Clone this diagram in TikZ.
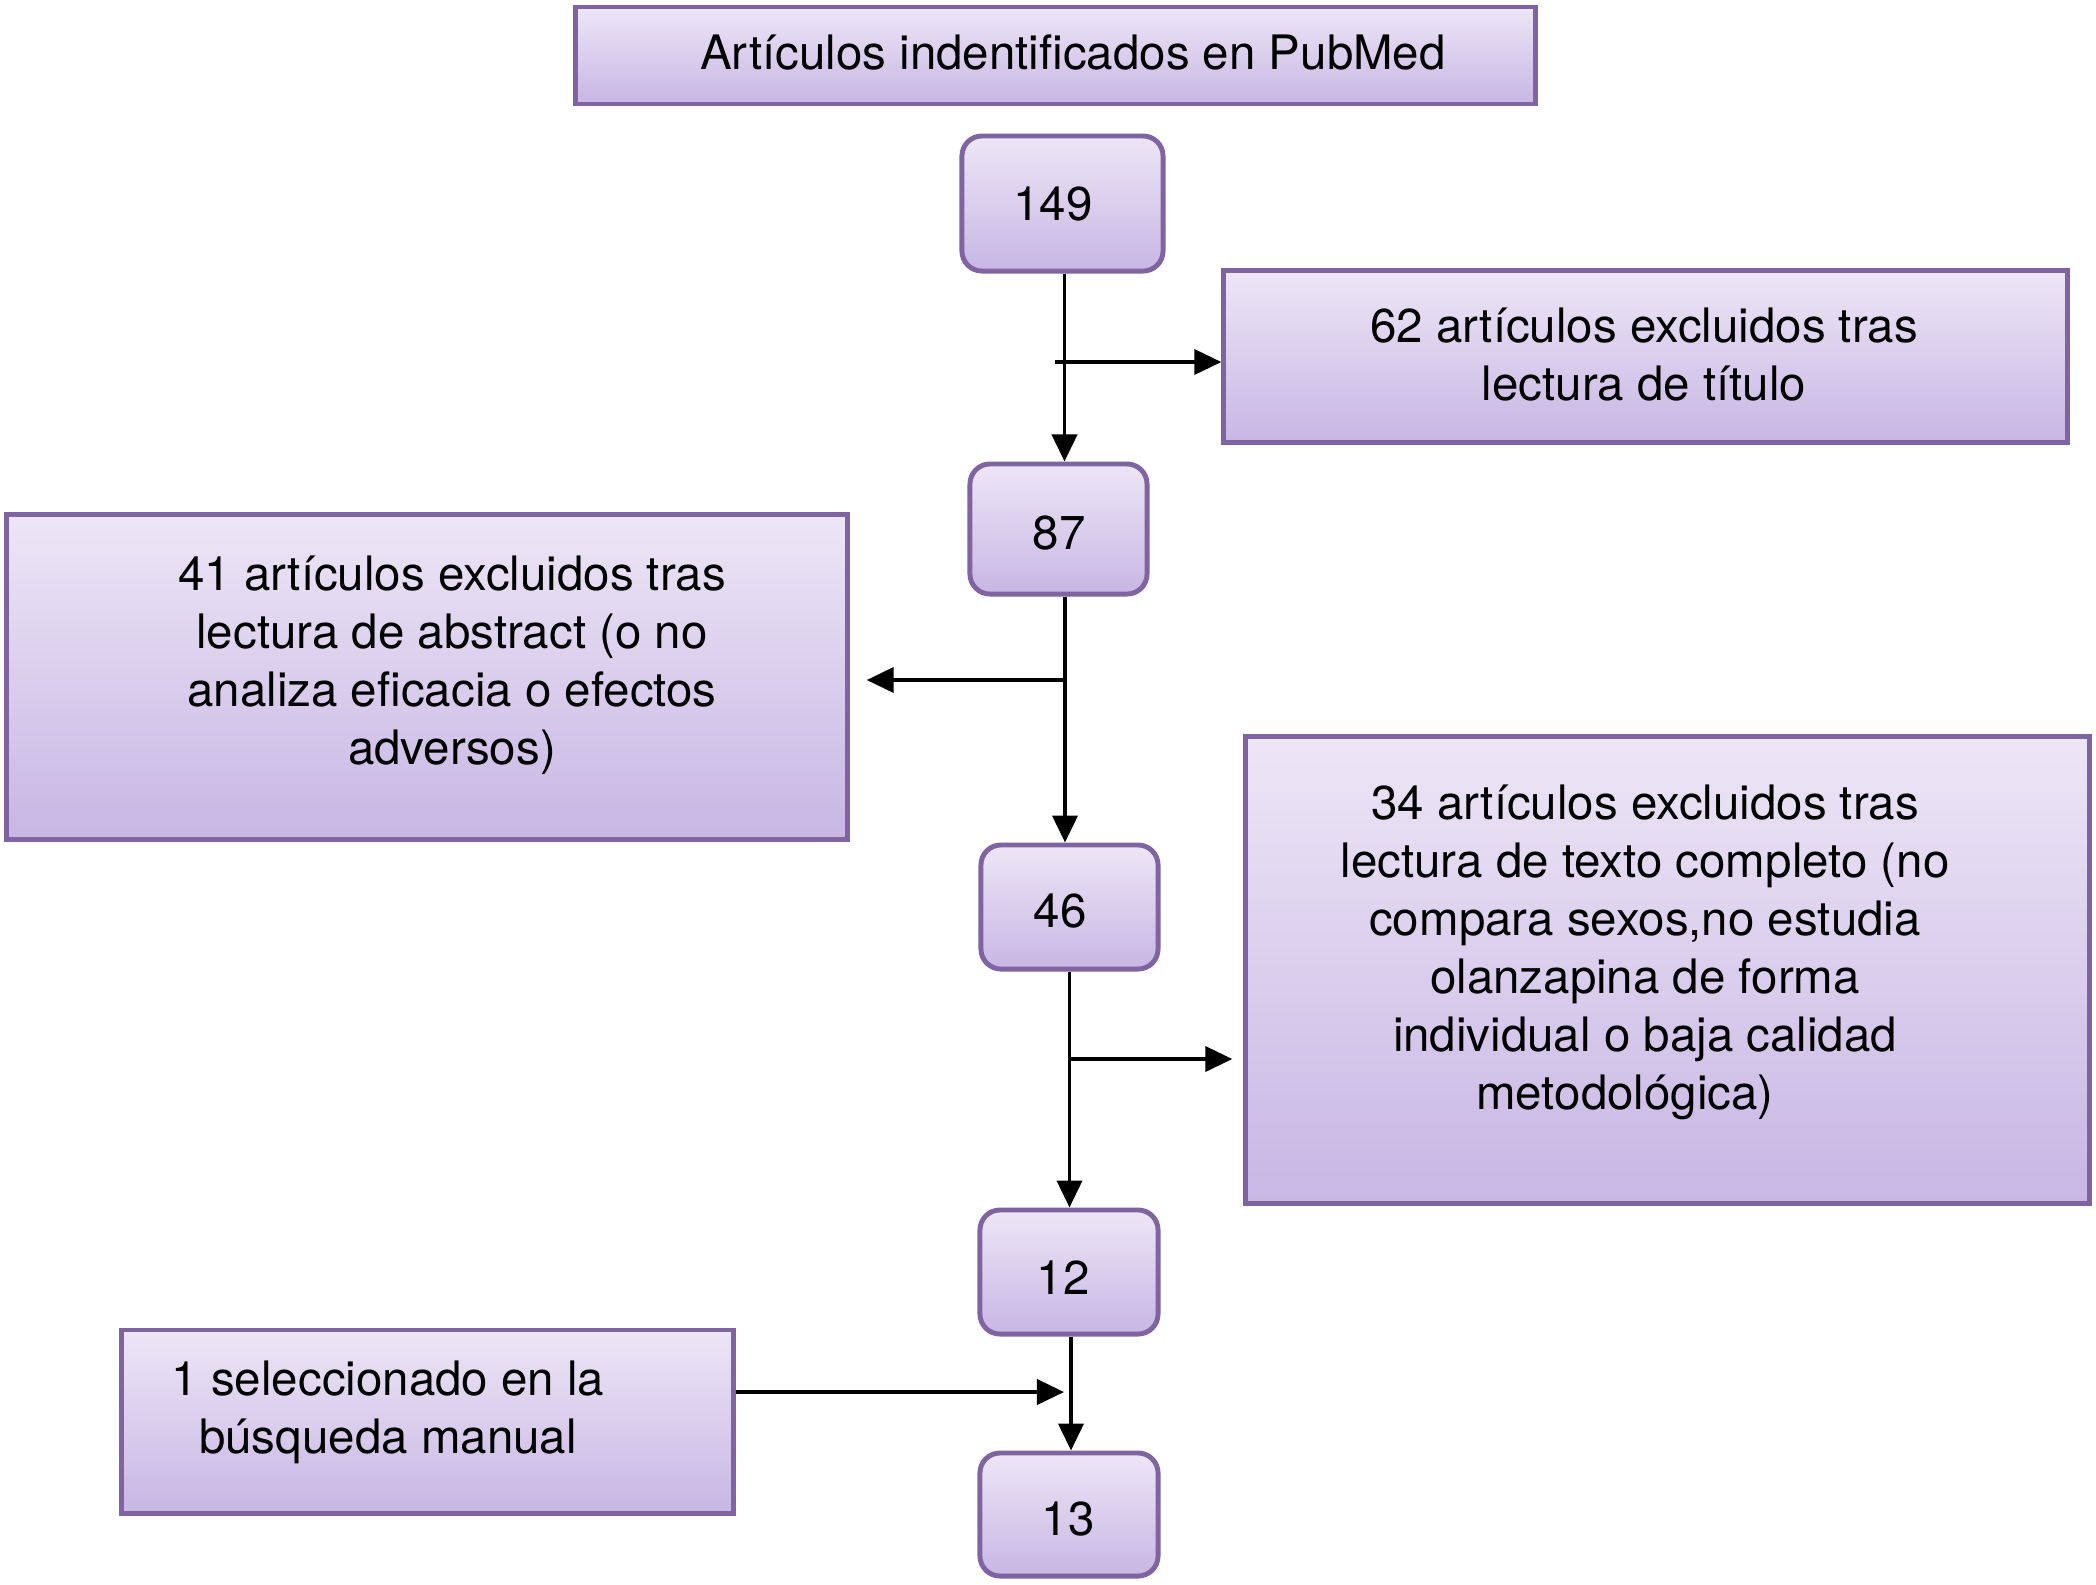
\documentclass[tikz,border=0pt]{standalone}
\usepackage{fontspec}
\setmainfont{TeX Gyre Heros}
\usetikzlibrary{arrows.meta}

\definecolor{boxline}{HTML}{8064A2}
\definecolor{boxtop}{HTML}{EDE6F6}
\definecolor{boxbot}{HTML}{C8B6E4}

\tikzset{
  box/.style={draw=boxline, line width=1.4pt, top color=boxtop, bottom color=boxbot, inner sep=0pt},
  numbox/.style={box, rounded corners=0.2cm},
  txt/.style={align=center, font=\fontsize{13.5}{16.5}\selectfont, inner sep=0pt},
  arr/.style={-{Triangle[length=0.27cm,width=0.25cm]}, line width=1.1pt}
}

\begin{document}
\begin{tikzpicture}[x=0.01cm, y=-0.01cm]
  \useasboundingbox (0,0) rectangle (2096,1584);

  % boxes
  \node[box, minimum width=9.59cm, minimum height=0.97cm] (top) at (1055.5,55.5) {};
  \node[numbox, minimum width=2.01cm, minimum height=1.35cm] (b149) at (1062.5,203.5) {};
  \node[box, minimum width=8.43cm, minimum height=1.71cm] (b62) at (1645.5,356.5) {};
  \node[numbox, minimum width=1.77cm, minimum height=1.30cm] (b87) at (1058.5,529) {};
  \node[box, minimum width=8.40cm, minimum height=3.24cm] (b41) at (427,677) {};
  \node[numbox, minimum width=1.77cm, minimum height=1.24cm] (b46) at (1069.5,907) {};
  \node[box, minimum width=8.43cm, minimum height=4.66cm] (b34) at (1667.5,970) {};
  \node[numbox, minimum width=1.78cm, minimum height=1.24cm] (b12) at (1069,1272) {};
  \node[box, minimum width=6.11cm, minimum height=1.83cm] (b1) at (427.5,1421.5) {};
  \node[numbox, minimum width=1.78cm, minimum height=1.23cm] (b13) at (1069,1514.5) {};

  % texts
  \node[txt] (ttop) at (1073,52) {Artículos indentificados en PubMed};
  \node[txt] (t149) at (1053,204) {149};
  \node[txt] (t62) at (1644,355) {62 artículos excluidos tras\\lectura de título};
  \node[txt] (t87) at (1059,533) {87};
  \node[txt] (t41) at (452,665) {41 artículos excluidos tras\\lectura de abstract (o no\\analiza eficacia o efectos\\adversos)};
  \node[txt] (t46) at (1060,911) {46};
  \node[txt] (t34) at (1645,952) {34 artículos excluidos tras\\lectura de texto completo (no\\compara sexos,no estudia\\olanzapina de forma\\individual o baja calidad\\metodológica)\hspace*{0.4cm}};
  \node[txt] (t12) at (1063,1278) {12};
  \node[txt] (t1) at (388,1412) {1 seleccionado en la\\búsqueda manual};
  \node[txt] (t13) at (1068,1519) {13};

  % junctions
  \coordinate (j1) at (1055,362);
  \coordinate (j2) at (1065,680);
  \coordinate (j3) at (1069,1059);
  \coordinate (j4) at (1064,1392);

  % connectors
  \draw[arr] ([xshift=0.02cm]b149.south) -- ([xshift=0.02cm]b149.south |- b87.north);
  \draw[arr] (j1) -- (j1 -| b62.west);
  \draw[arr] ([xshift=0.065cm]b87.south) -- ([xshift=0.065cm]b87.south |- b46.north);
  \draw[arr, shorten >=0.17cm] (j2) -- (j2 -| b41.east);
  \draw[arr] (b46.south) -- (b46.south |- b12.north);
  \draw[arr, shorten >=0.11cm] (j3) -- (j3 -| b34.west);
  \draw[arr] ([xshift=0.02cm]b12.south) -- ([xshift=0.02cm]b12.south |- b13.north);
  \draw[arr] (b1.east |- j4) -- (j4);
\end{tikzpicture}
\end{document}
